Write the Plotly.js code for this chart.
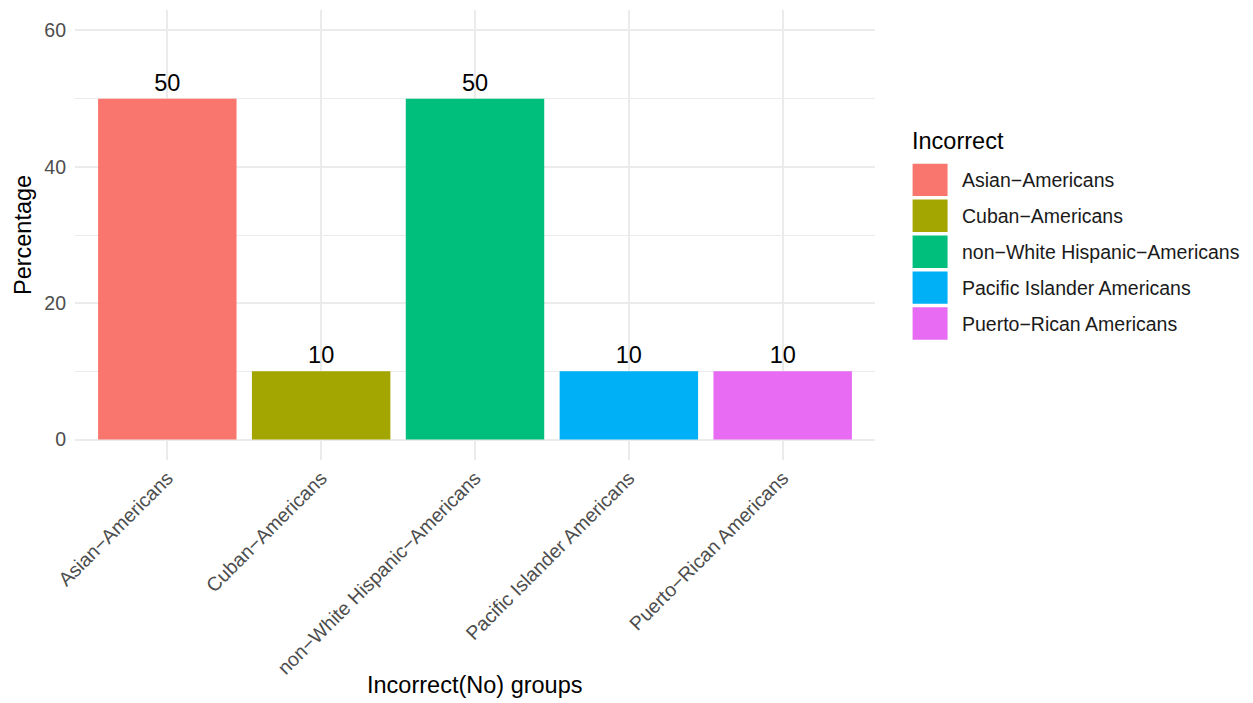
<!DOCTYPE html>
<html>
<head>
<meta charset="utf-8">
<script src="https://cdn.plot.ly/plotly-3.0.1.min.js"></script>
<style>html,body{margin:0;padding:0;background:#fff;}#chart{width:1253px;height:703px;}</style>
</head>
<body>
<div id="chart"></div>
<script>
const categories = ["Asian\u2212Americans", "Cuban\u2212Americans", "non\u2212White Hispanic\u2212Americans", "Pacific Islander Americans", "Puerto\u2212Rican Americans"];
const percentages = [50, 10, 50, 10, 10];
const colors = ["#F8766D", "#A3A500", "#00BF7D", "#00B0F6", "#E76BF3"];
const yTicks = [0, 20, 40, 60];
const yMinorTicks = [10, 30, 50];
const legendTitle = "Incorrect";
const xTitle = "Incorrect(No) groups";
const yTitle = "Percentage";

const FONT = "Liberation Sans, Arial, Helvetica, sans-serif";
const BIG = 23.5, SMALL = 19.5;
const W = 1253, H = 703;
const L = 75, R = 377.6, T = 9.5, B = 242.5;
const pw = W - L - R, ph = H - T - B;
function px2x(p){ return (p - L) / pw; }
function py2y(p){ return (H - B - p) / ph; }

const trace = {
  type: "bar",
  x: categories,
  y: percentages,
  marker: {color: colors, line: {width: 0}},
  width: 0.9,
  text: percentages.map(String),
  textposition: "outside",
  textfont: {family: FONT, size: BIG, color: "#000000"},
  cliponaxis: false,
  hoverinfo: "x+y",
  showlegend: false
};

const shapes = [];
const annotations = [];
categories.forEach((c, i) => {
  const top = 163.5 + i * 36;
  shapes.push({
    type: "rect", xref: "paper", yref: "paper",
    x0: px2x(913), x1: px2x(948), y0: py2y(top + 32.5), y1: py2y(top),
    fillcolor: colors[i], line: {width: 0}
  });
  annotations.push({
    xref: "paper", yref: "paper", x: px2x(960), y: py2y(top + 16.5),
    xanchor: "left", yanchor: "middle", showarrow: false,
    text: c, font: {family: FONT, size: SMALL, color: "#1a1a1a"}
  });
});
annotations.push({
  xref: "paper", yref: "paper", x: px2x(910), y: py2y(141),
  xanchor: "left", yanchor: "middle", showarrow: false,
  text: legendTitle, font: {family: FONT, size: BIG, color: "#000000"}
});
annotations.push({
  xref: "paper", yref: "paper", x: px2x(475), y: py2y(686),
  xanchor: "center", yanchor: "middle", showarrow: false,
  text: xTitle, font: {family: FONT, size: BIG, color: "#000000"}
});
annotations.push({
  xref: "paper", yref: "paper", x: px2x(23), y: py2y(235),
  xanchor: "center", yanchor: "middle", showarrow: false, textangle: -90,
  text: yTitle, font: {family: FONT, size: BIG, color: "#000000"}
});

const layout = {
  width: W, height: H,
  margin: {l: L, r: R, t: T, b: B, pad: 0},
  paper_bgcolor: "#ffffff",
  plot_bgcolor: "#ffffff",
  bargap: 0.1,
  showlegend: false,
  xaxis: {
    type: "category",
    range: [-0.6, categories.length - 0.4],
    showgrid: true, gridcolor: "#ebebeb", gridwidth: 2,
    zeroline: false, showline: false, ticks: "",
    tickangle: -45,
    ticklabelstandoff: 2,
    tickfont: {family: FONT, size: SMALL, color: "#4d4d4d"},
    automargin: false,
    fixedrange: true
  },
  yaxis: {
    range: [-3, 63],
    tickvals: yTicks,
    ticktext: yTicks.map(String),
    showgrid: true, gridcolor: "#ebebeb", gridwidth: 2,
    minor: {tickvals: yMinorTicks, showgrid: true, gridcolor: "#ebebeb", gridwidth: 1},
    zeroline: false, showline: false, ticks: "",
    ticklabelstandoff: 8,
    tickfont: {family: FONT, size: SMALL, color: "#4d4d4d"},
    automargin: false,
    fixedrange: true
  },
  shapes: shapes,
  annotations: annotations
};

Plotly.newPlot("chart", [trace], layout, {displayModeBar: false, staticPlot: true});
</script>
</body>
</html>
